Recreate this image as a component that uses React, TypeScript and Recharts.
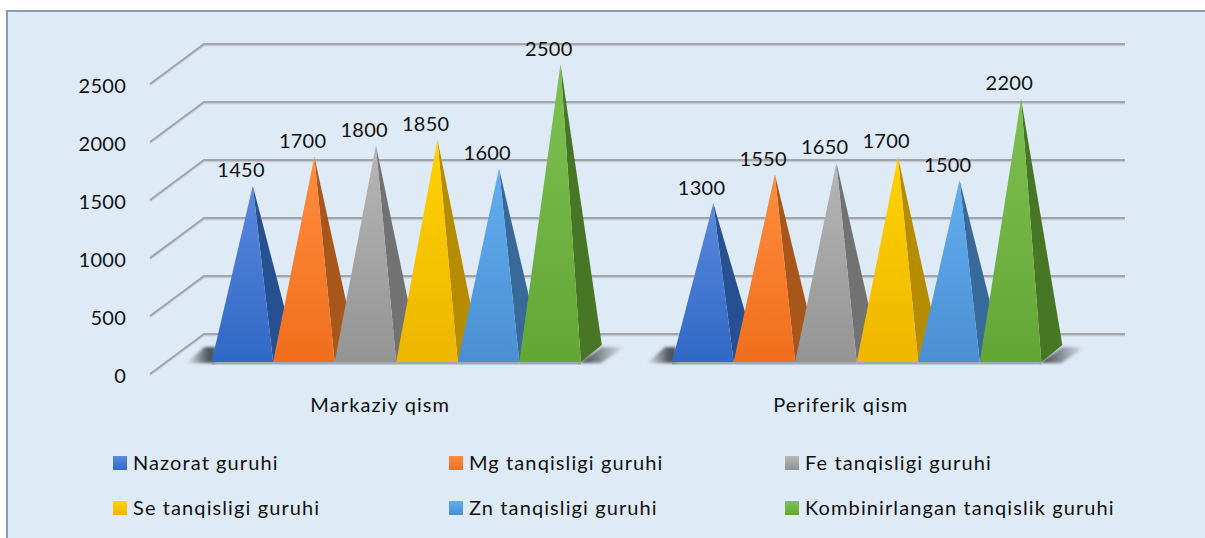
import { BarChart, Bar, XAxis, YAxis, CartesianGrid, Legend, LabelList } from 'recharts'

// Pyramid chart, 3D look is faked with a custom bar shape and slanted grid lines.

const categories = ['Markaziy qism', 'Periferik qism']
const yTicks = [0, 500, 1000, 1500, 2000, 2500]

const seriesNames = [
  'Nazorat guruhi',
  'Mg tanqisligi guruhi',
  'Fe tanqisligi guruhi',
  'Se tanqisligi guruhi',
  'Zn tanqisligi guruhi',
  'Kombinirlangan tanqislik guruhi',
]
const nazorat = [1450, 1300]
const mg = [1700, 1550]
const fe = [1800, 1650]
const se = [1850, 1700]
const zn = [1600, 1500]
const kombin = [2500, 2200]
const seriesValues = [nazorat, mg, fe, se, zn, kombin]

const frontTop = ['#5a88dc', '#ff8d3e', '#b6b6b6', '#ffd200', '#62aef0', '#7dc152']
const frontBottom = ['#3068c6', '#f06e1c', '#949494', '#eeb600', '#4a8fd2', '#64a636']
const sideColors = ['#26508f', '#a8561a', '#727272', '#b68c00', '#37699b', '#477625']

const tableData = categories.map((name, i) => {
  const row: Record<string, string | number> = { name }
  seriesNames.forEach((s, j) => {
    row[s] = seriesValues[j][i]
  })
  return row
})

// depth of the fake 3D box
const BACK_DX = 54
const BACK_DY = 40
// bars stand in the middle of the depth
const BAR_DX = 16
const FLOOR_LIFT = 12
const TOP_LIFT = 20
// recharts floors the bar width, the reference bars are a bit wider
const WIDTH_FIX = 0.55

function gridLine(props: any) {
  const { x1, x2, y1, key } = props
  const d = `M${x1},${y1} L${x1 + BACK_DX},${y1 - BACK_DY} L${x2 + BACK_DX},${y1 - BACK_DY}`
  return (
    <g key={key}>
      <path d={d} transform="translate(0,1.5)" fill="none" stroke="#c4ccd6" strokeWidth={1.5} />
      <path d={d} fill="none" stroke="#a3a5a8" strokeWidth={2} />
    </g>
  )
}

function pyramidShape(index: number) {
  return function Pyramid(props: any) {
    const { x, y, width, height } = props
    const w = width + WIDTH_FIX
    const left = x + BAR_DX - 0.5 + index * WIDTH_FIX
    const right = left + w
    const base = y + height - FLOOR_LIFT
    const apexX = left + w * 0.67
    const apexY = y - TOP_LIFT
    return (
      <g>
        {index === 0 && (
          <polygon
            points={`${left - 25},${base + 1} ${left - 7},${base - 15} ${left + 4},${base - 15} ${left + 4},${base + 1}`}
            fill="url(#shadowLeft)"
            filter="url(#softEdge)"
          />
        )}
        {index === 5 && (
          <polygon
            points={`${right - 2},${base + 1} ${right + 21},${base - 15} ${right + 44},${base - 15} ${right + 20},${base + 1}`}
            fill="url(#shadowRight)"
            filter="url(#softEdge)"
          />
        )}
        <rect x={left} y={base} width={w} height={2.5} fill="#8d9299" opacity={0.75} />
        <polygon
          points={`${apexX},${apexY} ${right},${base} ${right + 21},${base - 17}`}
          fill={sideColors[index]}
        />
        <polygon
          points={`${apexX},${apexY} ${left},${base} ${right},${base}`}
          fill={`url(#front${index})`}
        />
      </g>
    )
  }
}

function valueLabel(index: number) {
  return function ValueLabel(props: any) {
    const { x, y, width, value } = props
    return (
      <text
        x={x + width / 2 + BAR_DX - 1.5 + index * WIDTH_FIX}
        y={y - TOP_LIFT - 8.5}
        textAnchor="middle"
        fontSize={20}
        letterSpacing={0.25}
        fontFamily="Lato"
        fill="#111"
      >
        {value}
      </text>
    )
  }
}

function legendContent(props: any) {
  const { payload } = props
  return (
    <div
      style={{
        display: 'grid',
        gridTemplateColumns: '336px 336px 336px',
        rowGap: 22,
        fontFamily: 'Lato',
        fontSize: 20,
        letterSpacing: 1.1,
        lineHeight: '23px',
        color: '#111',
        textAlign: 'left',
      }}
    >
      {(payload || []).map((item: any, i: number) => (
        <div key={item.value} style={{ display: 'flex', alignItems: 'center' }}>
          <span
            style={{
              display: 'inline-block',
              width: 14,
              height: 14,
              marginRight: 6,
              background: `linear-gradient(${frontTop[i]}, ${frontBottom[i]})`,
            }}
          />
          {item.value}
        </div>
      ))}
    </div>
  )
}

export default function App() {
  return (
    <div style={{ position: 'absolute', left: 0, top: 0, width: 1205, height: 538, overflow: 'hidden', background: '#fff' }}>
      <div
        style={{
          position: 'absolute',
          left: 6,
          top: 10,
          width: 1300,
          height: 600,
          background: '#deeaf6',
          border: '2px solid #8a9cba',
          boxSizing: 'border-box',
        }}
      />
      <div style={{ position: 'absolute', left: 0, top: 0 }}>
        <BarChart
          width={1205}
          height={538}
          data={tableData}
          margin={{ top: 84, right: 134, bottom: 104, left: 0 }}
          barCategoryGap="10%"
          barGap={0}
        >
          <defs>
            {frontTop.map((c, i) => (
              <linearGradient key={c} id={`front${i}`} x1="0" y1="0" x2="0" y2="1">
                <stop offset="0%" stopColor={c} />
                <stop offset="100%" stopColor={frontBottom[i]} />
              </linearGradient>
            ))}
            <linearGradient id="shadowLeft" x1="0" y1="0" x2="1" y2="0">
              <stop offset="0%" stopColor="#4c4f55" stopOpacity={0} />
              <stop offset="75%" stopColor="#4c4f55" stopOpacity={0.95} />
            </linearGradient>
            <linearGradient id="shadowRight" x1="0" y1="0" x2="1" y2="0">
              <stop offset="15%" stopColor="#4c4f55" stopOpacity={0.95} />
              <stop offset="100%" stopColor="#4c4f55" stopOpacity={0} />
            </linearGradient>
            <filter id="softEdge" x="-20%" y="-30%" width="140%" height="160%">
              <feGaussianBlur stdDeviation="1.6" />
            </filter>
          </defs>
          <CartesianGrid vertical={false} horizontal={gridLine} />
          <XAxis
            dataKey="name"
            axisLine={false}
            tickLine={false}
            height={60}
            tickMargin={18}
            interval={0}
            tick={{ fontSize: 20, fontFamily: 'Lato', fill: '#111', letterSpacing: 1.1 }}
          />
          <YAxis
            width={150}
            domain={[0, 2500]}
            ticks={yTicks}
            axisLine={false}
            tickLine={false}
            tickMargin={18}
            tick={{ fontSize: 20, fontFamily: 'Lato', fill: '#111', dy: 2, letterSpacing: 0.25 }}
          />
          <Legend
            layout="horizontal"
            align="center"
            verticalAlign="middle"
            itemSorter={null}
            content={legendContent}
            wrapperStyle={{ position: 'absolute', left: 113, top: 451, width: 1010, height: 80 }}
          />
          {seriesNames.map((name, i) => (
            <Bar
              key={name}
              dataKey={name}
              name={name}
              fill={frontBottom[i]}
              shape={pyramidShape(i)}
              isAnimationActive={false}
            >
              <LabelList dataKey={name} content={valueLabel(i)} />
            </Bar>
          ))}
        </BarChart>
      </div>
    </div>
  )
}
